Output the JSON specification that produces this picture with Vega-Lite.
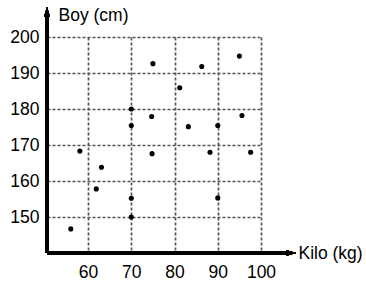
{
  "$schema": "https://vega.github.io/schema/vega-lite/v6.json",
  "width": 214,
  "height": 216,
  "autosize": {"type": "none"},
  "padding": {"left": 47, "top": 37, "right": 105, "bottom": 29},
  "background": "white",
  "config": {
    "view": {"stroke": null},
    "font": "Liberation Sans",
    "axis": {"labelFont": "Liberation Sans", "titleFont": "Liberation Sans"}
  },
  "data": {
    "values": [
      {"kilo": 75, "boy": 192.6},
      {"kilo": 86.3, "boy": 191.8},
      {"kilo": 95, "boy": 194.7},
      {"kilo": 81.2, "boy": 185.9},
      {"kilo": 70, "boy": 180},
      {"kilo": 74.7, "boy": 177.9},
      {"kilo": 70, "boy": 175.4},
      {"kilo": 83.2, "boy": 175.1},
      {"kilo": 90, "boy": 175.4},
      {"kilo": 95.6, "boy": 178.2},
      {"kilo": 58.1, "boy": 168.3},
      {"kilo": 74.8, "boy": 167.6},
      {"kilo": 88.2, "boy": 168},
      {"kilo": 97.6, "boy": 168},
      {"kilo": 63.1, "boy": 163.8},
      {"kilo": 61.9, "boy": 157.8},
      {"kilo": 70, "boy": 155.2},
      {"kilo": 90, "boy": 155.3},
      {"kilo": 70, "boy": 150},
      {"kilo": 56, "boy": 146.7}
    ]
  },
  "layer": [
    {
      "mark": {"type": "point", "filled": true, "color": "black", "size": 26, "opacity": 1},
      "encoding": {
        "x": {
          "field": "kilo", "type": "quantitative",
          "scale": {"domain": [50.5, 100], "nice": false, "zero": false},
          "axis": {
            "values": [60, 70, 80, 90, 100],
            "domain": false, "ticks": false, "labelFlush": false, "labelOverlap": false,
            "labelFontSize": 17.5, "labelColor": "black", "labelPadding": 10,
            "grid": true, "gridColor": "#555", "gridDash": [3, 2], "gridWidth": 1.7, "gridOpacity": 1,
            "title": "Kilo (kg)", "titleFontSize": 17.5, "titleFontWeight": "normal", "titleColor": "black",
            "titleX": 251, "titleY": 0, "titleAlign": "left", "titleBaseline": "middle", "titleAngle": 0
          }
        },
        "y": {
          "field": "boy", "type": "quantitative",
          "scale": {"domain": [140, 200], "nice": false, "zero": false},
          "axis": {
            "values": [150, 160, 170, 180, 190, 200],
            "domain": false, "ticks": false, "labelFlush": false, "labelOverlap": false,
            "labelFontSize": 17.5, "labelColor": "black", "labelPadding": 8,
            "grid": true, "gridColor": "#555", "gridDash": [3, 2], "gridWidth": 1.7, "gridOpacity": 1,
            "title": "Boy (cm)", "titleFontSize": 17.5, "titleFontWeight": "normal", "titleColor": "black",
            "titleX": 11, "titleY": -22, "titleAlign": "left", "titleBaseline": "middle", "titleAngle": 0
          }
        }
      }
    },
    {
      "mark": {"type": "rule", "color": "black", "strokeWidth": 2.5},
      "encoding": {
        "x": {"datum": 50.5, "type": "quantitative"},
        "x2": {"datum": 106.5},
        "y": {"datum": 140, "type": "quantitative"}
      }
    },
    {
      "mark": {"type": "rule", "color": "black", "strokeWidth": 2.5},
      "encoding": {
        "x": {"datum": 50.5, "type": "quantitative"},
        "y": {"datum": 140, "type": "quantitative"},
        "y2": {"datum": 206.5}
      }
    },
    {
      "mark": {"type": "point", "shape": "M-1,-0.6L1,0L-1,0.6L-0.6,0Z", "filled": true, "color": "black", "size": 90, "opacity": 1},
      "encoding": {
        "x": {"datum": 107, "type": "quantitative"},
        "y": {"datum": 140, "type": "quantitative"}
      }
    },
    {
      "mark": {"type": "point", "shape": "M-0.6,1L0,-1L0.6,1L0,0.6Z", "filled": true, "color": "black", "size": 90, "opacity": 1},
      "encoding": {
        "x": {"datum": 50.5, "type": "quantitative"},
        "y": {"datum": 207, "type": "quantitative"}
      }
    }
  ]
}
